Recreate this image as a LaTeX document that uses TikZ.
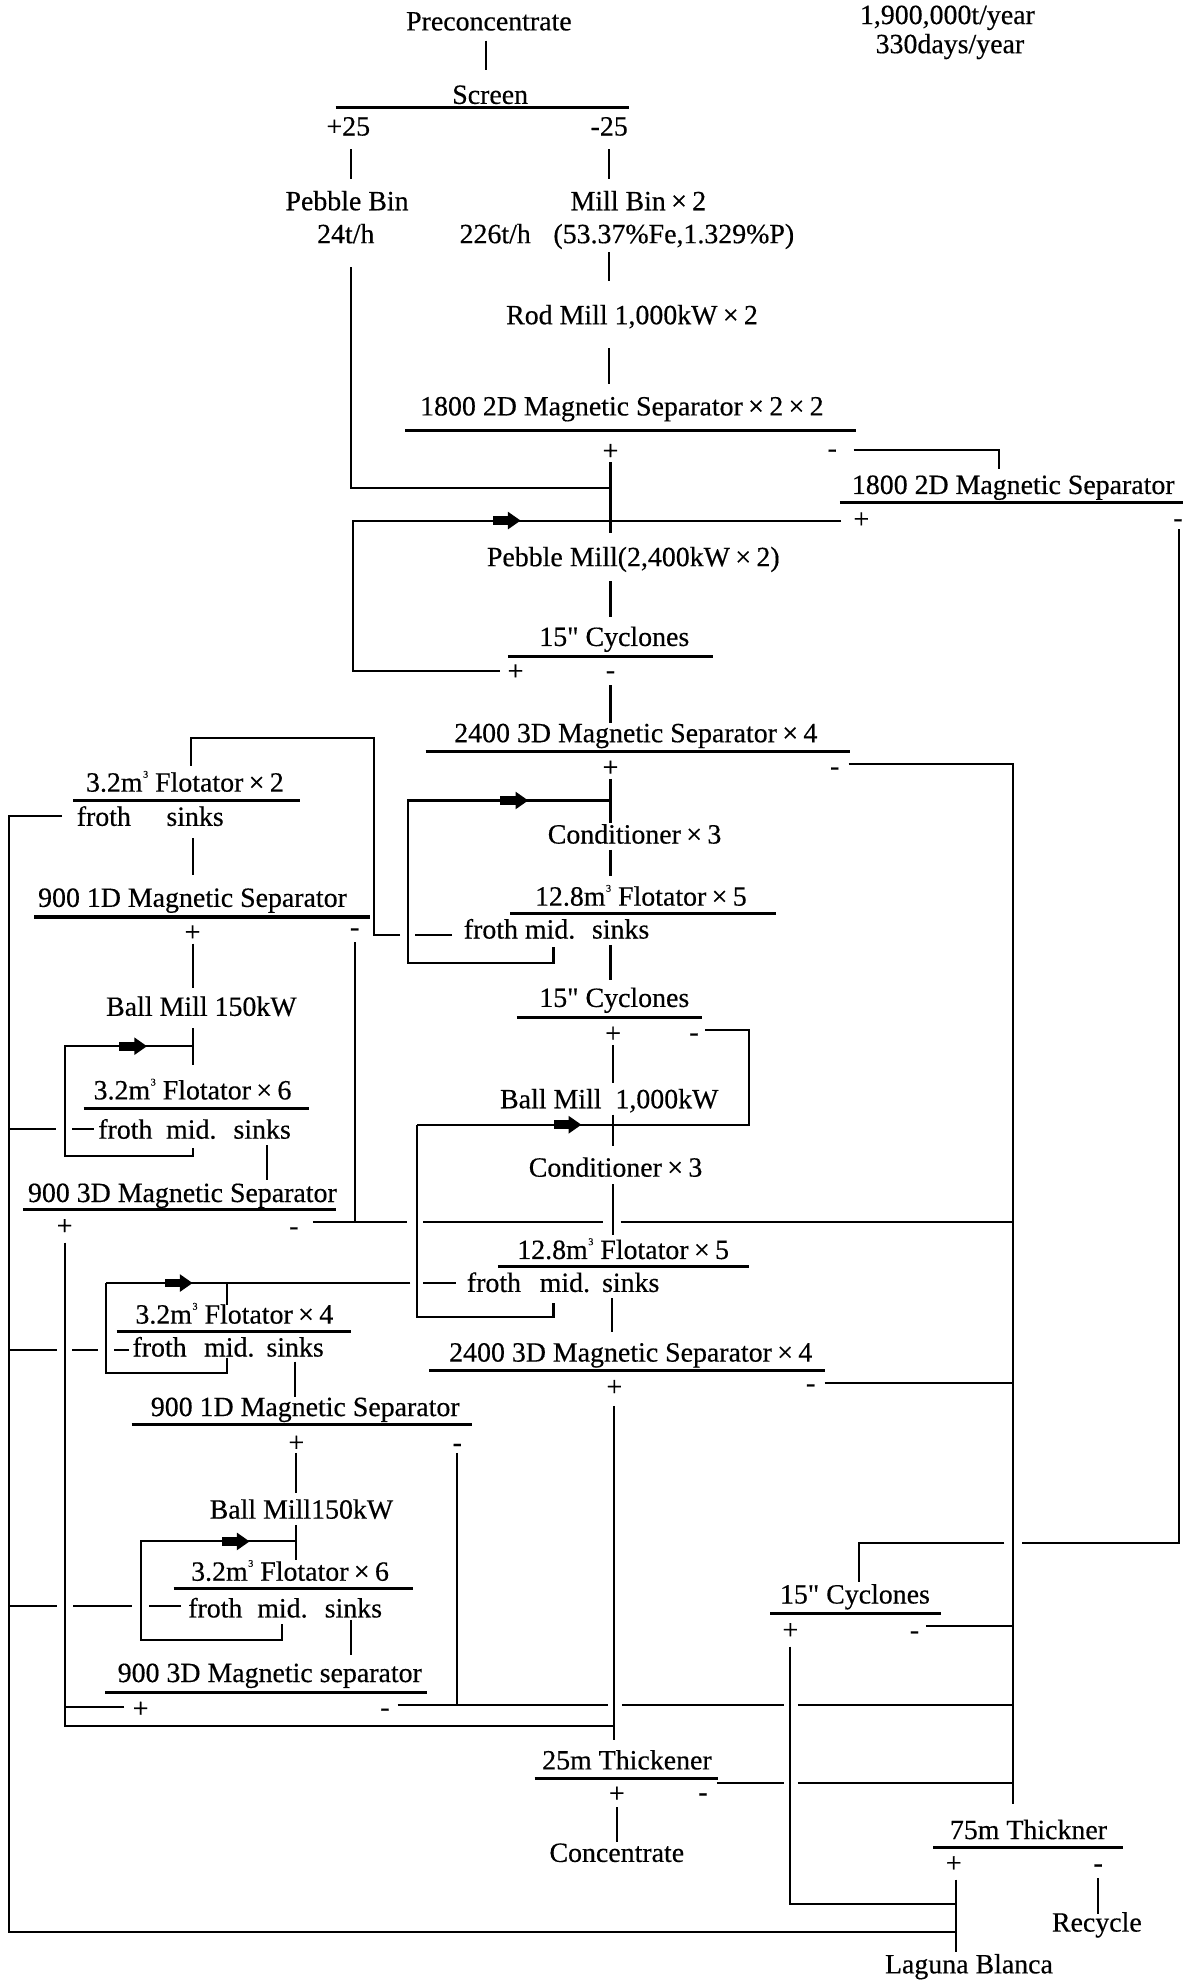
\documentclass[tikz,border=0pt]{standalone}
\usepackage{fontspec}
\setmainfont{Liberation Serif}[FakeBold=0.4]
% the same face without TeX ligatures, for the straight inch mark
\setmonofont{Liberation Serif}[FakeBold=0.4]
\newcommand\inch{{\ttfamily"}}
% padded multiplication sign and cubic-metre unit
\newcommand\tx{\hbox to 0.95em{\hss×\hss}}
\newcommand\mcub{m\kern0.02em\raisebox{0.5em}{\fontsize{8}{8}\selectfont 3}}
% text node: name, x, visual centre y, text
\newcommand\lb[4]{\node[txt] (#1) at (#2,#3+7) {#4};}
% left-aligned text node
\newcommand\lbw[4]{\node[txt,anchor=base west] (#1) at (#2,#3+7) {#4};}
% sign node (+/-): name, x, centre y, sign
\newcommand\sg[4]{\node[txt] (#1) at (#2,#3+6) {#4};}
\tikzset{
  txt/.style={font=\fontsize{22}{24}\selectfont, inner sep=0pt, anchor=base},
  flow/.style={line width=1.6pt},
  bar/.style={line width=2.4pt},
  flowarr/.pic={\fill (-12,-3.5) rectangle (2,3.5); \fill (0,-7) -- (10,0) -- (0,7) -- cycle;}
}
\begin{document}
\begin{tikzpicture}[x=1pt,y=-1pt]
\useasboundingbox[fill=white] (0,0) rectangle (934,1568);

% ---------------- labels ----------------
\lb{pre}{386}{17}{Preconcentrate}
\lb{cap1}{748}{12}{1,900,000t/year}
\lb{cap2}{750}{35}{330days/year}
\lb{scr}{387}{75}{Screen}
\lb{p25}{275}{100}{+25}
\lb{m25}{481}{100}{-25}
\lb{pbin}{274}{159}{Pebble Bin}
\lb{pbinr}{273}{185}{24t/h}
\lb{mbin}{504}{159}{Mill Bin\tx2}
\lb{mbinr}{391}{185}{226t/h}
\lb{mbina}{532}{185}{(53.37\%Fe,1.329\%P)}
\lb{rod}{499}{249}{Rod Mill 1,000kW\tx2}
\lb{msa}{491}{321}{1800 2D Magnetic Separator\tx2\tx2}
\sg{msap}{482}{357}{+}\sg{msam}{657}{355}{-}
\lb{msb}{800}{383}{1800 2D Magnetic Separator}
\sg{msbp}{680}{411}{+}\sg{msbm}{930}{410}{-}
\lb{peb}{500}{440}{Pebble Mill(2,400kW\tx2)}
\lb{cya}{485}{503}{15\inch\ Cyclones}
\sg{cyap}{407}{531}{+}\sg{cyam}{482}{530}{-}
\lb{mga}{502}{579}{2400 3D Magnetic Separator\tx4}
\sg{mgap}{482}{607}{+}\sg{mgam}{659}{606}{-}
\lb{cona}{501}{659}{Conditioner\tx3}
\lb{fla}{506}{708}{12.8\mcub\ Flotator\tx5}
\lbw{flaf}{366}{734}{froth mid.}\lb{flas}{490}{734}{sinks}
\lb{fxa}{146}{618}{3.2\mcub\ Flotator\tx2}
\lb{fxaf}{82}{645}{froth}\lb{fxas}{154}{645}{sinks}
\lb{mda}{152}{709}{900 1D Magnetic Separator}
\sg{mdap}{152}{737}{+}\sg{mdam}{280}{733}{-}
\lb{bma}{159}{795}{Ball Mill 150kW}
\lb{fxb}{152}{861}{3.2\mcub\ Flotator\tx6}
\lb{fxbf}{99}{892}{froth}\lb{fxbm}{151}{892}{mid.}\lb{fxbs}{207}{892}{sinks}
\lb{mdb}{144}{942}{900 3D Magnetic Separator}
\sg{mdbp}{51}{969}{+}\sg{mdbm}{232}{969}{-}
\lb{cyb}{485}{788}{15\inch\ Cyclones}
\sg{cybp}{484}{817}{+}\sg{cybm}{548}{816}{-}
\lb{bmb}{481}{868}{Ball Mill\ \ 1,000kW}
\lb{conb}{486}{922}{Conditioner\tx3}
\lb{flb}{492}{987}{12.8\mcub\ Flotator\tx5}
\lb{flbf}{390}{1013}{froth}\lb{flbm}{446}{1013}{mid.}\lb{flbs}{498}{1013}{sinks}
\lb{mgb}{498}{1068}{2400 3D Magnetic Separator\tx4}
\sg{mgbp}{485}{1096}{+}\sg{mgbm}{640}{1093}{-}
\lb{fxc}{185}{1038}{3.2\mcub\ Flotator\tx4}
\lb{fxcf}{126}{1064}{froth}\lb{fxcm}{181}{1064}{mid.}\lb{fxcs}{233}{1064}{sinks}
\lb{mdc}{241}{1111}{900 1D Magnetic Separator}
\sg{mdcp}{234}{1140}{+}\sg{mdcm}{361}{1140}{-}
\lb{bmc}{238}{1192}{Ball Mill150kW}
\lb{fxd}{229}{1241}{3.2\mcub\ Flotator\tx6}
\lb{fxdf}{170}{1270}{froth}\lb{fxdm}{223}{1270}{mid.}\lb{fxds}{279}{1270}{sinks}
\lb{mdd}{213}{1321}{900 3D Magnetic separator}
\sg{mddp}{111}{1350}{+}\sg{mddm}{304}{1349}{-}
\lb{cyc}{675}{1259}{15\inch\ Cyclones}
\sg{cycp}{624}{1288}{+}\sg{cycm}{722}{1288}{-}
\lb{tha}{495}{1390}{25m Thickener}
\sg{thap}{487}{1417}{+}\sg{tham}{555}{1416}{-}
\lb{conc}{487}{1463}{Concentrate}
\lb{thb}{812}{1445}{75m Thickner}
\sg{thbp}{753}{1472}{+}\sg{thbm}{867}{1472}{-}
\lb{rec}{866}{1518}{Recycle}
\lb{lag}{765}{1551}{Laguna Blanca}

% ---------------- separator bars ----------------
\draw[bar] (265,85) -- (497,85);
\draw[bar] (320,340) -- (676,340);
\draw[bar] (663,397) -- (934,397);
\draw[bar] (401,518) -- (563,518);
\draw[bar] (336,593) -- (671,593);
\draw[bar] (403,721) -- (613,721);
\draw[bar] (58,632) -- (237,632);
\draw[bar] (27,724) -- (292,724);
\draw[bar] (66,875) -- (244,875);
\draw[bar] (18,955) -- (265,955);
\draw[bar] (408,803) -- (554,803);
\draw[bar] (393,1000) -- (591,1000);
\draw[bar] (92,1051) -- (277,1051);
\draw[bar] (339,1082) -- (651,1082);
\draw[bar] (104,1125) -- (373,1125);
\draw[bar] (137,1254) -- (326,1254);
\draw[bar] (83,1336) -- (337,1336);
\draw[bar] (608,1274) -- (743,1274);
\draw[bar] (422,1404) -- (567,1404);
\draw[bar] (737,1459) -- (887,1459);

% ---------------- grinding circuit ----------------
\begin{scope}[flow]
\draw (384,32) -- (384,55);
\draw (277,118) -- (277,141);
\draw (481,118) -- (481,141);
\draw (481,199) -- (481,222);
\draw (481,275) -- (481,303);
\draw (482,365) -- (482,421);
\draw (277,211) -- (277,385) -- (482,385);
\draw (664,411) -- (279,411) -- (279,530) -- (395,530);
\draw (482,459) -- (482,487);
\draw (674,355) -- (789,355) -- (789,370);
\draw (482,541) -- (482,571);

% first flotation stage
\draw (482,615) -- (482,650);
\draw (482,632) -- (322,632) -- (322,760) -- (437,760) -- (437,748);
\draw (482,671) -- (482,692);
\draw (482,746) -- (482,774);
\draw (670,603) -- (800,603) -- (800,1424);
\draw (357,738) -- (328,738);
\draw (316,738) -- (295,738) -- (295,583) -- (151,583) -- (151,605);
\draw (152,662) -- (152,691);
\draw (49,644) -- (7,644) -- (7,1525) -- (755,1525);
\draw (152,745) -- (152,780);
\draw (280,744) -- (280,965);
\draw (152,812) -- (152,841);
\draw (152,826) -- (51,826) -- (51,913) -- (152,913) -- (152,906);
\draw (74,891) -- (57,891);
\draw (44,891) -- (7,891);
\draw (211,904) -- (211,932);
\draw (51,981) -- (51,1363) -- (485,1363);
\draw (247,965) -- (321,965);
\draw (334,965) -- (476,965);
\draw (490,965) -- (800,965);

% regrinding and second flotation stage
\draw (484,825) -- (484,855);
\draw (557,813) -- (591,813) -- (591,888) -- (329,888);
\draw (484,880) -- (484,905);
\draw (484,935) -- (484,975);
\draw (360,1013) -- (334,1013);
\draw (324,1013) -- (84,1013);
\draw (437,1029) -- (437,1040) -- (329,1040) -- (329,888);
\draw (179,1013) -- (179,1030);
\draw (179,1072) -- (179,1084) -- (84,1084) -- (84,1013);
\draw (102,1066) -- (90,1066);
\draw (77,1066) -- (57,1066);
\draw (45,1066) -- (7,1066);
\draw (483,1025) -- (483,1052);
\draw (485,1110) -- (485,1374);
\draw (651,1092) -- (800,1092);
\draw (233,1075) -- (233,1103);
\draw (234,1147) -- (234,1179);
\draw (361,1147) -- (361,1346);
\draw (234,1204) -- (234,1232);
\draw (234,1217) -- (111,1217) -- (111,1295) -- (223,1295) -- (223,1282);
\draw (143,1268) -- (118,1268);
\draw (104,1268) -- (58,1268);
\draw (45,1268) -- (7,1268);
\draw (277,1279) -- (277,1307);
\draw (98,1348) -- (51,1348);
\draw (314,1346) -- (480,1346);
\draw (491,1346) -- (619,1346);
\draw (630,1346) -- (800,1346);

% tailings and thickening
\draw (931,418) -- (931,1218) -- (807,1218);
\draw (793,1218) -- (678,1218) -- (678,1249);
\draw (731,1284) -- (800,1284);
\draw (624,1300) -- (624,1503) -- (755,1503);
\draw (566,1408) -- (619,1408);
\draw (630,1408) -- (800,1408);
\draw (487,1427) -- (487,1454);
\draw (755,1484) -- (755,1541);
\draw (867,1483) -- (867,1511);
\end{scope}

% flow direction markers
\pic at (401,411) {flowarr};
\pic at (407,632) {flowarr};
\pic at (106,826) {flowarr};
\pic at (449,888) {flowarr};
\pic at (142,1013) {flowarr};
\pic at (187,1217) {flowarr};
\end{tikzpicture}
\end{document}
